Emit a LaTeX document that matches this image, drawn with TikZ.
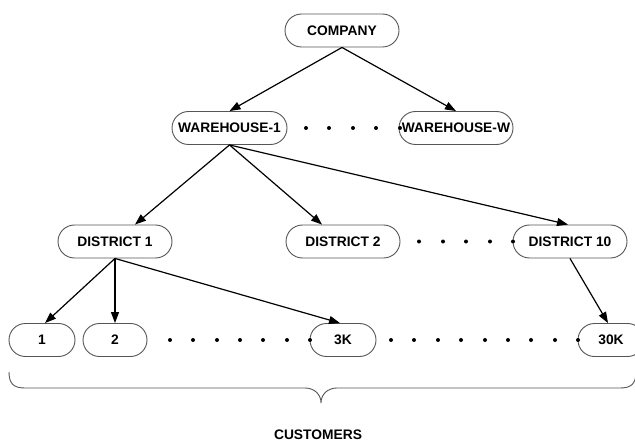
\documentclass[tikz,border=0pt]{standalone}
\usepackage{fontspec}
\setmainfont{Liberation Sans}
\usetikzlibrary{arrows.meta}
\definecolor{boxline}{HTML}{555555}
\tikzset{
  lbl/.style={font=\fontsize{13.8}{16}\selectfont\bfseries, text=black},
  pill/.style={draw=boxline, line width=0.9pt, rectangle, rounded corners=16.5pt,
    minimum height=33pt, inner sep=0pt, lbl},
  conn/.style={draw=black, line width=1.2pt, -{Triangle[length=11pt,width=8pt]}},
  dotmark/.style={circle, fill=black, inner sep=0pt, minimum size=4pt},
  bracep/.style={draw=boxline, line width=0.9pt}
}
\begin{document}
\begin{tikzpicture}[x=1pt,y=-1pt]
\useasboundingbox (0,0) rectangle (635,441);
\clip (0,0) rectangle (635,441);
% nodes
\node[pill, minimum width=114pt] (company) at (342,30.5) {COMPANY};
\node[pill, minimum width=115pt] (w1) at (229.5,128) {WAREHOUSE-1};
\node[pill, minimum width=114pt] (ww) at (456,128) {WAREHOUSE-W};
\node[pill, minimum width=114pt] (d1) at (115,241.5) {DISTRICT 1};
\node[pill, minimum width=114pt] (d2) at (343,241.5) {DISTRICT 2};
\node[pill, minimum width=114pt] (d10) at (570,241.5) {DISTRICT 10};
\node[pill, minimum width=66pt] (c1) at (42,340) {1};
\node[pill, minimum width=64pt] (c2) at (115,340) {2};
\node[pill, minimum width=66pt] (c3k) at (343,340) {3K};
\node[pill, minimum width=66pt] (c30k) at (611,340) {30K};
% connectors
\draw[conn] (company.south) -- (w1.north);
\draw[conn] (company.south) -- (ww.north);
\draw[conn] (w1.south) -- ([xshift=20pt]d1.north);
\draw[conn] (w1.south) -- ([xshift=-21pt]d2.north);
\draw[conn] (w1.south) -- ([xshift=-2pt]d10.north);
\draw[conn] (d1.south) -- ([xshift=3pt]c1.north);
\draw[conn] (d1.south) -- (c2.north);
\draw[conn] (d1.south) -- ([xshift=-3pt]c3k.north);
\draw[conn] (d10.south) -- ([xshift=-3pt]c30k.north);
% dots
\foreach \x [count=\i] in {306,329,353,376,400} \node[dotmark] (dw\i) at (\x,128) {};
\foreach \x [count=\i] in {419,443,466,490,513} \node[dotmark] (dd\i) at (\x,241.5) {};
\foreach \x [count=\i] in {170,193,217,240,263,287,310,391,414,438,461,485,508,531,555,578} \node[dotmark] (dc\i) at (\x,340) {};
% brace
\coordinate (bl) at (9,372);
\coordinate (br) at (636,372);
\coordinate (bc) at (321,403);
\draw[bracep] (bl) .. controls (9,384) and (14,388) .. (25,388) -- (305,388)
  .. controls (314,388) and (321,394) .. (bc)
  .. controls (321,394) and (328,388) .. (337,388) -- (620,388)
  .. controls (631,388) and (636,384) .. (br);
\node[lbl, anchor=south, inner sep=0pt] (cust) at (318,439.5) {CUSTOMERS};
\end{tikzpicture}
\end{document}
